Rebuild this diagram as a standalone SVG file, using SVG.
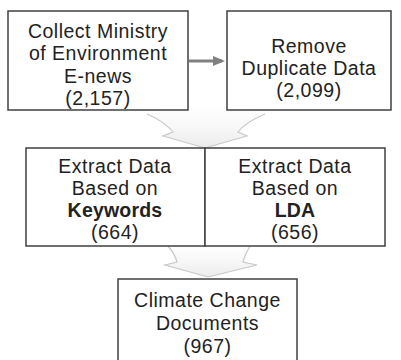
<svg xmlns="http://www.w3.org/2000/svg" width="401" height="360" viewBox="0 0 401 360">
<defs>
<style>
.box{fill:#fff;stroke:#404040;stroke-width:1.5}
.t{font-family:"Liberation Sans",Arial,sans-serif;font-size:19.5px;letter-spacing:0.5px;fill:#222;text-anchor:middle}
.b{font-weight:bold;letter-spacing:0.2px}
.cf{fill:url(#g);stroke:none}
.cs{fill:none;stroke:#c8c8c8;stroke-width:1.2;stroke-linejoin:miter}
</style>
<linearGradient id="g" x1="0" y1="0" x2="0" y2="1">
<stop offset="0" stop-color="#ffffff"/>
<stop offset="0.5" stop-color="#f7f7f7"/>
<stop offset="1" stop-color="#ebebeb"/>
</linearGradient>
<marker id="ah" markerWidth="4" markerHeight="4" refX="3" refY="2" orient="auto" markerUnits="strokeWidth">
<path d="M0,0.3 L4,2 L0,3.7 Z" fill="#808080"/>
</marker>
</defs>
<g id="connectors">
<line x1="189" y1="61" x2="222" y2="61" stroke="#808080" stroke-width="3" marker-end="url(#ah)"/>
<path class="cf" d="M147,114 Q165,122 173,132 L163,136 L205,148 L247,136 L238,132 Q246,122 265,114 Q205,100 147,114 Z"/>
<path class="cs" d="M147,114 Q165,122 173,132 L163,136 L205,148 L247,136 L238,132 Q246,122 265,114"/>
<path class="cf" d="M168,246 Q175,254 177,262 L165,265 L208,277 L257,265 L243,262 Q245,254 250,246 Z"/>
<path class="cs" d="M168,246 Q175,254 177,262 L165,265 L208,277 L257,265 L243,262 Q245,254 250,246"/>
</g>
<g id="n1">
<rect class="box" x="8" y="11" width="180" height="99"/>
<text class="t" x="98" y="37.5">Collect Ministry</text>
<text class="t" x="98" y="60">of Environment</text>
<text class="t" x="98" y="82.5">E-news</text>
<text class="t" x="98" y="105">(2,157)</text>
</g>
<g id="n2">
<rect class="box" x="227" y="11" width="164" height="99"/>
<text class="t" x="309" y="53">Remove</text>
<text class="t" x="309" y="75">Duplicate Data</text>
<text class="t" x="309" y="97">(2,099)</text>
</g>
<g id="n3">
<rect class="box" x="26" y="148" width="179" height="98"/>
<text class="t" x="115" y="173">Extract Data</text>
<text class="t" x="115" y="195">Based on</text>
<text class="t b" x="115" y="217">Keywords</text>
<text class="t" x="115" y="239">(664)</text>
</g>
<g id="n4">
<rect class="box" x="205" y="148" width="180" height="98"/>
<text class="t" x="295" y="173">Extract Data</text>
<text class="t" x="295" y="195">Based on</text>
<text class="t b" x="295" y="217">LDA</text>
<text class="t" x="295" y="239">(656)</text>
</g>
<g id="n5">
<rect class="box" x="118" y="279" width="179" height="90"/>
<text class="t" x="207.5" y="307">Climate Change</text>
<text class="t" x="207.5" y="330">Documents</text>
<text class="t" x="207.5" y="353">(967)</text>
</g>
</svg>
